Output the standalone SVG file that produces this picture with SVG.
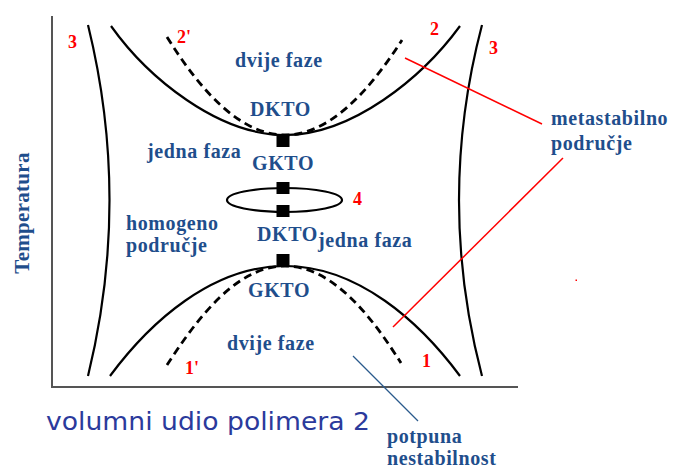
<svg xmlns="http://www.w3.org/2000/svg" width="682" height="471" viewBox="0 0 682 471">
<style>
.lbl{font-family:"Liberation Serif","Times New Roman",serif;font-weight:bold;font-size:20px;fill:#1f4e8c;letter-spacing:0.6px}
.num{font-family:"Liberation Serif","Times New Roman",serif;font-weight:bold;font-size:18px;fill:#ff0000}
.axis{stroke:#555;stroke-width:2;fill:none}
.curve{stroke:#000;stroke-width:2.2;fill:none}
.dash{stroke:#000;stroke-width:2.8;fill:none;stroke-dasharray:8,5}
.red{stroke:#ff0000;stroke-width:1.5}
.pt{fill:#000}
</style>
<rect width="682" height="471" fill="#fff"/>
<g id="axes">
<line class="axis" x1="52" y1="16" x2="52" y2="388"/>
<line class="axis" x1="51" y1="387" x2="518" y2="387"/>
<text x="29" y="213" text-anchor="middle" transform="rotate(-90 29 213)" class="lbl" style="font-size:21px;letter-spacing:0.3px">Temperatura</text>
<text x="46" y="430" style="font-family:'DejaVu Sans','Verdana',sans-serif;font-size:24px;fill:#2b3a9c" textLength="324" lengthAdjust="spacingAndGlyphs">volumni udio polimera 2</text>
</g>
<g id="curves">
<path id="c3l" class="curve" d="M88,25 Q131,200 88,376"/>
<path id="c3r" class="curve" d="M482,25 Q436,200 482,376"/>
<path id="c2" class="curve" d="M111,26 C148,78 218,135 285,135 C352,135 422,78 460,26"/>
<path id="c2p" class="dash" d="M167,37 C200,90 240,135 285,135 C330,135 370,90 402,40"/>
<path id="c1" class="curve" d="M110,376 C150,322 212,266 285,266 C358,266 420,322 460,376"/>
<path id="c1p" class="dash" d="M167,365 C195,322 235,266 285,266 C335,266 375,322 401,363"/>
<ellipse id="c4" class="curve" cx="284.5" cy="200" rx="57.5" ry="12"/>
</g>
<g id="points">
<rect class="pt" x="276.5" y="135" width="13" height="12"/>
<rect class="pt" x="276.5" y="182" width="13" height="12"/>
<rect class="pt" x="276.5" y="205" width="13" height="12"/>
<rect class="pt" x="276.5" y="254" width="13" height="12"/>
</g>
<g id="connectors">
<line class="red" x1="405" y1="58" x2="542" y2="124"/>
<line class="red" x1="563" y1="158" x2="393" y2="327"/>
<rect x="575.5" y="279.5" width="1.5" height="1.5" fill="#ff0000"/>
<line x1="353" y1="356" x2="418" y2="421" stroke="#2a5a8c" stroke-width="1.2"/>
</g>
<g id="numbers">
<text class="num" x="68" y="48">3</text>
<text class="num" x="177" y="43">2'</text>
<text class="num" x="430" y="35">2</text>
<text class="num" x="489" y="54">3</text>
<text class="num" x="353" y="205">4</text>
<text class="num" x="185" y="374">1'</text>
<text class="num" x="422" y="367">1</text>
</g>
<g id="labels">
<text class="lbl" x="235" y="67">dvije faze</text>
<text class="lbl" x="250" y="116">DKTO</text>
<text class="lbl" x="147" y="158">jedna faza</text>
<text class="lbl" x="252" y="170">GKTO</text>
<text class="lbl" x="126" y="230">homogeno</text>
<text class="lbl" x="126" y="252">područje</text>
<text class="lbl" x="257" y="241">DKTO</text>
<text class="lbl" x="318" y="247">jedna faza</text>
<text class="lbl" x="248" y="297">GKTO</text>
<text class="lbl" x="227" y="350">dvije faze</text>
<text class="lbl" x="551" y="125">metastabilno</text>
<text class="lbl" x="551" y="150">područje</text>
<text class="lbl" x="387" y="443">potpuna</text>
<text class="lbl" x="387" y="465">nestabilnost</text>
</g>
</svg>
